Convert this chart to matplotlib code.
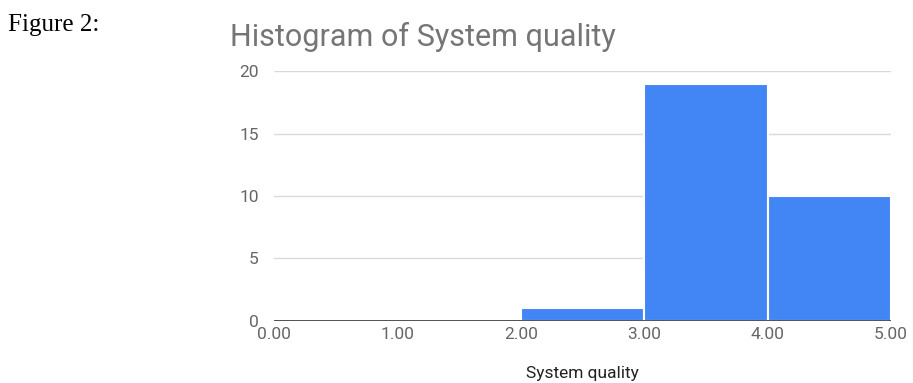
import matplotlib.pyplot as plt

plt.rcParams['font.family'] = ['Roboto', 'DejaVu Sans']

# histogram bins and counts
bin_edges = [0, 1, 2, 3, 4, 5]
counts = [0, 0, 1, 19, 10]
x_ticks = [0, 1, 2, 3, 4, 5]
x_tick_labels = ["0.00", "1.00", "2.00", "3.00", "4.00", "5.00"]
y_ticks = [0, 5, 10, 15, 20]

fig = plt.figure(figsize=(9.13, 3.83), dpi=100)
ax = fig.add_axes([0.3001, 0.1619, 0.6758, 0.6527])

lefts = bin_edges[:-1]
widths = [b - a for a, b in zip(bin_edges[:-1], bin_edges[1:])]
ax.bar(lefts, counts, width=widths, align="edge", color="#4285f4",
       edgecolor="white", linewidth=1.5, zorder=2)

ax.set_xlim(0, 5)
ax.set_ylim(0, 20)
ax.set_xticks(x_ticks)
ax.set_xticklabels(x_tick_labels)
ax.set_yticks(y_ticks)
ax.grid(axis="y", color="#dadada", linewidth=1, zorder=0)
ax.axhline(0, color="#333333", linewidth=1.2, zorder=3)

for s in ax.spines.values():
    s.set_visible(False)
ax.tick_params(length=0, labelsize=12.5, labelcolor="#666666")
ax.tick_params(axis="x", pad=4)
ax.tick_params(axis="y", pad=11)

# x axis title placed in figure coords so it stays inside the canvas
fig.text(0.6375, 0.025, "System quality", fontsize=12.5, color="#222222",
         ha="center", va="center")

fig.text(0.252, 0.903, "Histogram of System quality", fontsize=22,
         color="#757575", ha="left", va="center")
fig.text(0.009, 0.935, "Figure 2:", fontsize=18, family="Liberation Serif",
         color="black", ha="left", va="center")

fig.savefig("out.png", dpi=100)
